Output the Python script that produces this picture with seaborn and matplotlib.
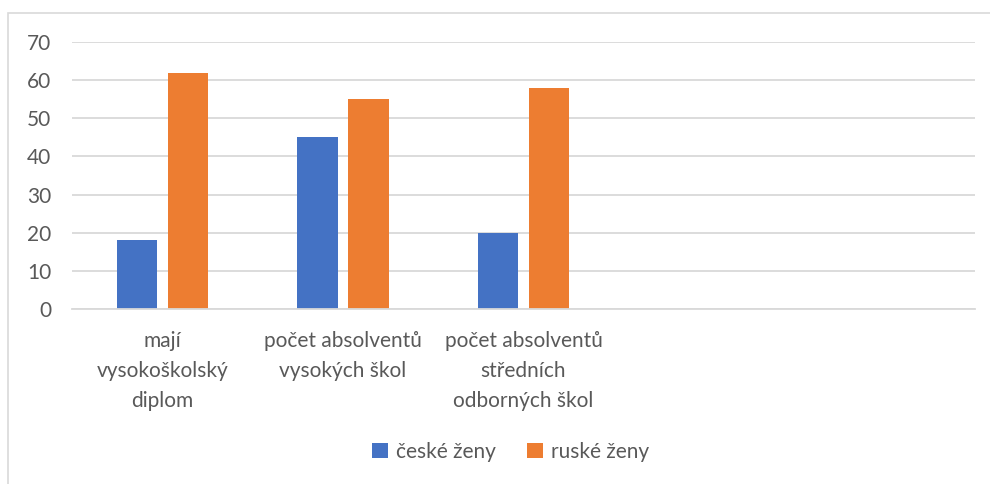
import pandas as pd
import matplotlib
matplotlib.use("Agg")
import matplotlib.pyplot as plt
import seaborn as sns
from matplotlib.patches import Rectangle

# data
categories = ["mají\nvysokoškolský\ndiplom",
              "počet absolventů\nvysokých škol",
              "počet absolventů\nstředních\nodborných škol"]
empty_slots = ["", " "]
czech_women = [18, 45, 20]
russian_women = [62, 55, 58]
series_names = ["české ženy", "ruské ženy"]
y_ticks = [0, 10, 20, 30, 40, 50, 60, 70]

df = pd.DataFrame({
    "kategorie": categories * 2,
    "hodnota": czech_women + russian_women,
    "skupina": [series_names[0]] * 3 + [series_names[1]] * 3,
})

sns.set_theme(style="white")
plt.rcParams['font.family'] = ['Lato', 'DejaVu Sans']
text_col = "#595959"
grid_col = "#d9d9d9"
fs = 15

fig = plt.figure(figsize=(9.9, 4.84), dpi=100)
ax = fig.add_axes([72 / 990, 1 - 309 / 484, (975 - 72) / 990, (309 - 42) / 484])

sns.barplot(data=df, x="kategorie", y="hodnota", hue="skupina",
            order=categories + empty_slots, hue_order=series_names,
            palette=["#4472C4", "#ED7D31"], width=0.565, gap=0.21,
            saturation=1, linewidth=0, ax=ax, legend=True)

ax.set_xlim(-0.5, 4.5)
ax.set_ylim(0, 70)
ax.set_yticks(y_ticks)
ax.set_xlabel("")
ax.set_ylabel("")
ax.grid(axis="y", color=grid_col, linewidth=1.3)
ax.set_axisbelow(True)
for s in ["left", "right", "top"]:
    ax.spines[s].set_visible(False)
ax.spines["bottom"].set_color(grid_col)
ax.spines["bottom"].set_linewidth(1.3)
ax.tick_params(axis="y", length=0, pad=15, labelsize=fs, labelcolor=text_col)
ax.tick_params(axis="x", length=0, pad=16, labelsize=fs, labelcolor=text_col)
for lbl in ax.get_xticklabels():
    lbl.set_linespacing(1.62)

ax.legend_.remove()
fig.legend(*ax.get_legend_handles_labels(), loc="center", ncol=2,
           bbox_to_anchor=(0.516, 1 - 452 / 484), frameon=False,
           fontsize=fs, labelcolor=text_col, handlelength=0.75,
           handleheight=0.75, handletextpad=0.4, columnspacing=1.5)

# chart area border, partly cut off at right and bottom
fig.patches.append(Rectangle((8 / 990, -0.1), 1.2, 1.1 - 13 / 484,
                             transform=fig.transFigure, fill=False,
                             edgecolor=grid_col, linewidth=1.2))

fig.savefig("out.png", dpi=100)
